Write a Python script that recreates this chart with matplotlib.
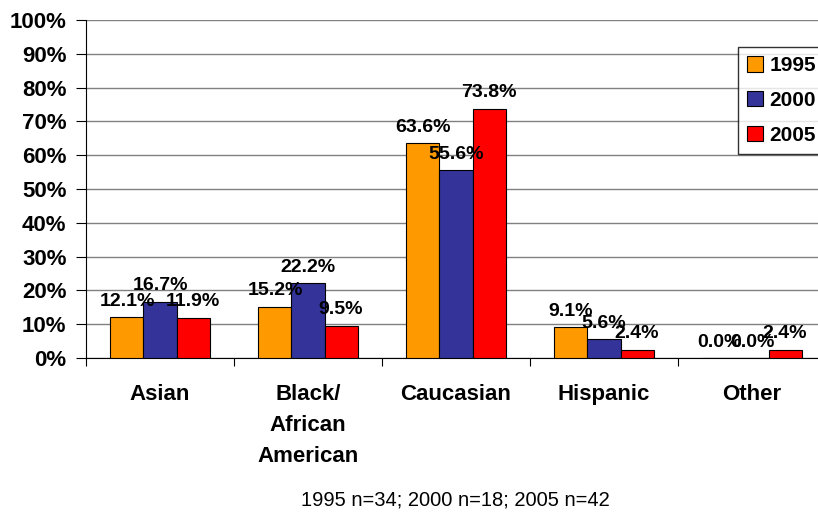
import numpy as np
import matplotlib.pyplot as plt

plt.rcParams['font.family'] = ['Liberation Sans', 'DejaVu Sans']

categories = ['Asian', 'Black/\nAfrican\nAmerican', 'Caucasian', 'Hispanic', 'Other']
years = ['1995', '2000', '2005']
v1995 = [12.1, 15.2, 63.6, 9.1, 0.0]
v2000 = [16.7, 22.2, 55.6, 5.6, 0.0]
v2005 = [11.9, 9.5, 73.8, 2.4, 2.4]
colors = ['#FF9900', '#333399', '#FF0000']
footnote = '1995 n=34; 2000 n=18; 2005 n=42'

fig = plt.figure(figsize=(8.18, 5.12), dpi=100)
ax = fig.add_axes([86 / 818, 1 - 358 / 512, 740 / 818, 338 / 512])

x = np.arange(len(categories))
w = 0.223
series = [v1995, v2000, v2005]
for i, (vals, c, yr) in enumerate(zip(series, colors, years)):
    pos = x + (i - 1) * w
    ax.bar(pos, vals, w, color=c, edgecolor='black', linewidth=0.8, label=yr, zorder=3)
    for px, v in zip(pos, vals):
        ax.text(px, v + 2.2, '%.1f%%' % v, ha='center', va='bottom',
                fontsize=14, fontweight='bold', zorder=4)

ax.set_xlim(-0.5, len(categories) - 0.5)
ax.set_ylim(0, 100)
ax.set_yticks(np.arange(0, 101, 10))
ax.set_yticklabels(['%d%%' % t for t in range(0, 101, 10)], fontsize=16, fontweight='bold')
ax.yaxis.grid(True, color='#808080', linewidth=1, zorder=0)
ax.set_axisbelow(True)

ax.set_xticks(np.arange(-0.5, len(categories), 1.0))
ax.set_xticklabels([])
ax.set_xticks(x, minor=True)
ax.set_xticklabels(categories, minor=True, fontsize=16, fontweight='bold', linespacing=1.6)
ax.tick_params(axis='x', which='minor', length=0, pad=19)
ax.tick_params(axis='x', which='major', length=6, color='black')
ax.tick_params(axis='y', length=7, pad=7)

ax.spines['right'].set_visible(False)
ax.spines['top'].set_visible(False)
ax.spines['left'].set_color('black')
ax.spines['bottom'].set_color('black')

leg = fig.legend(loc='upper left', bbox_to_anchor=(738 / 818, 1 - 47 / 512),
                 prop={'size': 15, 'weight': 'bold'}, frameon=True, fancybox=False,
                 edgecolor='black', handlelength=0.75, handleheight=0.75,
                 handletextpad=0.3, labelspacing=0.75, borderpad=0.45,
                 borderaxespad=0)
leg.get_frame().set_linewidth(1)

fig.text(455 / 818, 1 - 500 / 512, footnote, ha='center', va='center', fontsize=14.5)

fig.savefig('out.png', dpi=100)
